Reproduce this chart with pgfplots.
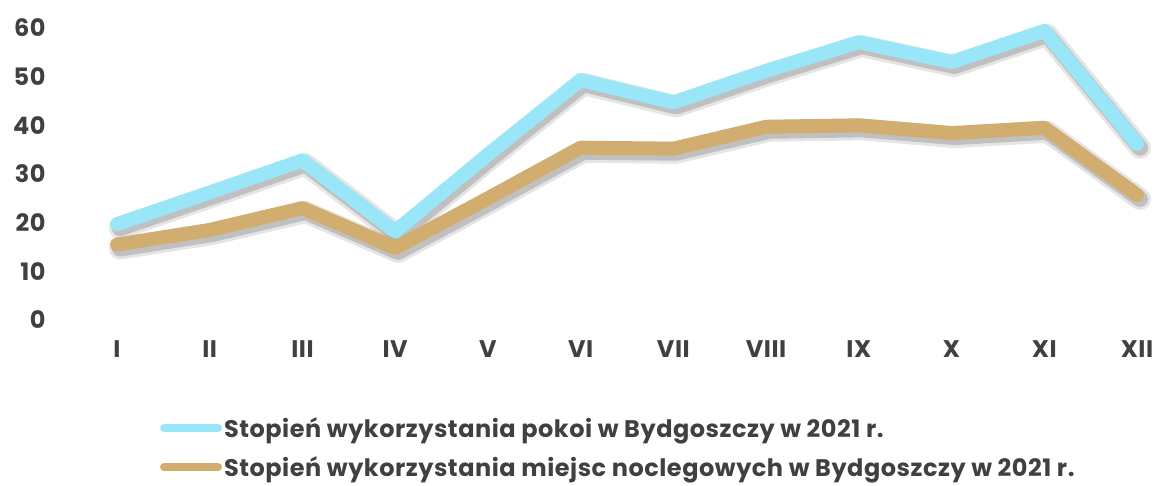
\documentclass[border=0pt]{standalone}
\usepackage{fontspec}
\setmainfont{Poppins}[LetterSpace=2.2]
\usepackage{pgfplots}
\usepackage{pgfplotstable}
\pgfplotsset{compat=1.18}
\definecolor{txt}{HTML}{404040}
\definecolor{lblue}{HTML}{99E6F8}
\definecolor{ltan}{HTML}{D1AE70}
\pgfplotstableread{
x y
1 19.7
2 26.2
3 32.8
4 18.2
5 34.0
6 49.3
7 44.7
8 51.2
9 57.1
10 53.0
11 59.4
12 36.2
}\pokoi
\pgfplotstableread{
x y
1 15.5
2 18.5
3 23.0
4 14.8
5 25.0
6 35.4
7 35.2
8 39.7
9 40.0
10 38.4
11 39.5
12 25.7
}\miejsca
\begin{document}
\begin{tikzpicture}
\useasboundingbox (-117pt,-166pt) rectangle (1040pt,320pt);
\begin{axis}[
  anchor=south west, at={(0pt,0pt)},
  scale only axis,
  width=1020pt, height=292pt,
  xmin=1, xmax=12, ymin=0, ymax=60,
  axis line style={draw=none},
  clip=false,
  xtick={1,...,12},
  xticklabels={I,II,III,IV,V,VI,VII,VIII,IX,X,XI,XII},
  ytick={0,10,...,60},
  tick style={draw=none},
  /pgf/number format/assume math mode=true,
  every tick label/.style={font=\fontsize{24}{28}\selectfont\bfseries, text=txt},
  yticklabel style={anchor=east, xshift=-68pt},
  xticklabel style={anchor=north, yshift=-17pt},
  legend style={at={(0.042,-0.325)}, anchor=north west, draw=none, fill=none,
    font=\fontsize{24}{28}\selectfont\bfseries, text=txt, row sep=14pt,
    inner sep=0pt, /tikz/every even column/.append style={column sep=1pt}},
  legend cell align=left,
  legend image code/.code={\draw[line width=8pt, line cap=round] (0pt,0pt) -- (54pt,0pt);},
  shadowA/.style={forget plot, black, opacity=0.10, line width=22pt, line join=round, line cap=round,
    transform canvas={xshift=3pt, yshift=-4pt}},
  shadowB/.style={forget plot, black, opacity=0.16, line width=16pt, line join=round, line cap=round,
    transform canvas={xshift=3pt, yshift=-4pt}},
]
\addplot[shadowA] table {\pokoi};
\addplot[shadowB] table {\pokoi};
\addplot[lblue, line width=14pt, line join=round, line cap=round] table {\pokoi};
\addlegendentry{Stopień wykorzystania pokoi w Bydgoszczy w 2021 r.}
\addplot[shadowA] table {\miejsca};
\addplot[shadowB] table {\miejsca};
\addplot[ltan, line width=14pt, line join=round, line cap=round] table {\miejsca};
\addlegendentry{Stopień wykorzystania miejsc noclegowych w Bydgoszczy w 2021 r.}
\end{axis}
\end{tikzpicture}
\end{document}
